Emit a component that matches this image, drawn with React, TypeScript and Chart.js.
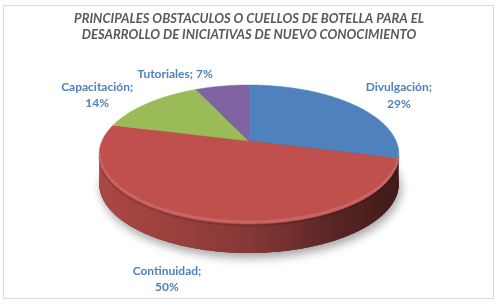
import React, { useEffect, useRef } from "react";
import { Chart, registerables } from "chart.js";

Chart.register(...registerables);

// ---- data ----
const CATEGORIES = ["Divulgación", "Continuidad", "Capacitación", "Tutoriales"];
const VALUES = [29, 50, 14, 7];
const TITLE_LINES = [
  "PRINCIPALES OBSTACULOS O CUELLOS DE BOTELLA PARA EL",
  "DESARROLLO DE INICIATIVAS DE NUEVO CONOCIMIENTO",
];

// ---- styles ----
const COLORS = ["#4F81BD", "#C0504D", "#9BBB59", "#8064A2"];
const LABEL_COLOR = "#4F81BD";
const TITLE_COLOR = "#595959";
const FONT = "Lato, 'Open Sans', sans-serif";
// label offsets (px) from the projected rim point at each slice's middle angle
const LABEL_OFFSETS: [number, number][] = [
  [46, -9],
  [-37, 58],
  [-51, -8],
  [-47, -12],
];
const LABEL_ONE_LINE = [false, false, false, true];
const PERSPECTIVE = 0.194; // depth foreshortening
const WIDTH_RATIO = 1.058; // horizontal radius / top-face height
const THICKNESS = 29;

function hexToRgb(h: string) {
  const n = parseInt(h.slice(1), 16);
  return [(n >> 16) & 255, (n >> 8) & 255, n & 255];
}
function shade(h: string, f: number) {
  const [r, g, b] = hexToRgb(h);
  return `rgb(${Math.round(r * f)},${Math.round(g * f)},${Math.round(b * f)})`;
}

const pie3d = {
  id: "pie3d",
  beforeDraw(chart: any) {
    const ctx = chart.ctx;
    ctx.save();
    ctx.fillStyle = "#ffffff";
    ctx.fillRect(0, 0, chart.width, chart.height);
    ctx.strokeStyle = "#D9D9D9";
    ctx.lineWidth = 1;
    ctx.strokeRect(3.5, 5.5, 490, 293);
    ctx.restore();
  },
  beforeDatasetsDraw(chart: any) {
    const ctx: CanvasRenderingContext2D = chart.ctx;
    const ca = chart.chartArea;
    const k = PERSPECTIVE;
    const H = ca.bottom - ca.top;
    const B = (H * (1 - k * k)) / 2;
    const A = H * WIDTH_RATIO;
    const cx = (ca.left + ca.right) / 2;
    const cy = ca.top + B / (1 + k);
    const proj = (a: number, dy = 0): [number, number] => {
      const u = Math.cos(a);
      const v = -Math.sin(a);
      const w = 1 + k * v;
      return [cx + (A * u) / w, cy - (B * v) / w + dy];
    };
    const rim = (a0: number, a1: number, dy = 0) => {
      const pts: [number, number][] = [];
      const n = Math.max(2, Math.ceil(Math.abs(a1 - a0) / 0.01));
      for (let i = 0; i <= n; i++) pts.push(proj(a0 + ((a1 - a0) * i) / n, dy));
      return pts;
    };
    const meta = chart.getDatasetMeta(0);
    const arcs = meta.data as any[];
    // front-facing rim range (Chart.js angle)
    const thS = Math.acos(-k); // from top, clockwise
    const fa0 = thS - Math.PI / 2;
    const fa1 = 2 * Math.PI - thS - Math.PI / 2;

    ctx.save();
    // shadow of the whole disc
    ctx.save();
    ctx.beginPath();
    rim(0, 2 * Math.PI, THICKNESS).forEach(([x, y], i) => (i ? ctx.lineTo(x, y) : ctx.moveTo(x, y)));
    ctx.closePath();
    ctx.shadowColor = "rgba(0,0,0,0.35)";
    ctx.shadowBlur = 10;
    ctx.shadowOffsetY = 5;
    ctx.shadowOffsetX = 2;
    ctx.fillStyle = "#5a2020";
    ctx.fill();
    ctx.restore();

    // side walls
    arcs.forEach((arc, i) => {
      const s = Math.max(arc.startAngle, fa0);
      const e = Math.min(arc.endAngle, fa1);
      if (e <= s) return;
      const top = rim(s, e);
      const bot = rim(e, s, THICKNESS);
      const g = ctx.createLinearGradient(cx - A * 1.03, 0, cx + A * 1.03, 0);
      const c = COLORS[i];
      g.addColorStop(0, shade(c, 0.9));
      g.addColorStop(0.25, shade(c, 0.8));
      g.addColorStop(0.5, shade(c, 0.7));
      g.addColorStop(0.8, shade(c, 0.45));
      g.addColorStop(1, shade(c, 0.33));
      ctx.beginPath();
      [...top, ...bot].forEach(([x, y], j) => (j ? ctx.lineTo(x, y) : ctx.moveTo(x, y)));
      ctx.closePath();
      ctx.fillStyle = g;
      ctx.fill();
    });

    // top faces
    arcs.forEach((arc, i) => {
      const pts = rim(arc.startAngle, arc.endAngle);
      ctx.beginPath();
      ctx.moveTo(cx, cy);
      pts.forEach(([x, y]) => ctx.lineTo(x, y));
      ctx.closePath();
      ctx.fillStyle = COLORS[i];
      ctx.fill();
      ctx.strokeStyle = COLORS[i];
      ctx.lineWidth = 0.5;
      ctx.stroke();
    });

    // bevel highlight along the front edge
    ctx.save();
    ctx.beginPath();
    rim(fa0, fa1, -2).forEach(([x, y], j) => (j ? ctx.lineTo(x, y) : ctx.moveTo(x, y)));
    ctx.strokeStyle = "rgba(255,255,255,0.12)";
    ctx.lineWidth = 3;
    ctx.stroke();
    ctx.beginPath();
    rim(fa0, fa1, 1.5).forEach(([x, y], j) => (j ? ctx.lineTo(x, y) : ctx.moveTo(x, y)));
    ctx.strokeStyle = "rgba(0,0,0,0.12)";
    ctx.lineWidth = 2;
    ctx.stroke();
    ctx.restore();

    // data labels
    const total = VALUES.reduce((a, b) => a + b, 0);
    ctx.fillStyle = LABEL_COLOR;
    ctx.font = `bold 12px ${FONT}`;
    ctx.textAlign = "center";
    ctx.textBaseline = "middle";
    arcs.forEach((arc, i) => {
      const mid = (arc.startAngle + arc.endAngle) / 2;
      const [px, py] = proj(mid);
      const x = px + LABEL_OFFSETS[i][0];
      const y = py + LABEL_OFFSETS[i][1];
      const pct = Math.round((VALUES[i] / total) * 100) + "%";
      if (LABEL_ONE_LINE[i]) {
        ctx.fillText(`${CATEGORIES[i]}; ${pct}`, x, y);
      } else {
        ctx.fillText(`${CATEGORIES[i]};`, x, y - 8);
        ctx.fillText(pct, x, y + 8.5);
      }
    });
    ctx.restore();
    return false;
  },
};

export default function App() {
  const ref = useRef<HTMLCanvasElement>(null);
  useEffect(() => {
    document.body.style.margin = "0";
    const chart = new Chart(ref.current!, {
      type: "pie",
      data: {
        labels: CATEGORIES,
        datasets: [{ data: VALUES, backgroundColor: COLORS, borderWidth: 0 }],
      },
      options: {
        animation: false,
        responsive: false,
        devicePixelRatio: 1,
        layout: { padding: { left: 0, right: 2, top: 0, bottom: 82 } },
        plugins: {
          legend: { display: false },
          tooltip: { enabled: false },
          title: {
            display: true,
            text: TITLE_LINES,
            color: TITLE_COLOR,
            font: { family: FONT, size: 13, weight: "bold", style: "italic", lineHeight: "16px" },
            padding: { top: 11, bottom: 42 },
          },
        },
      } as any,
      plugins: [pie3d],
    });
    return () => chart.destroy();
  }, []);
  return (
    <div style={{ width: 500, height: 306 }}>
      <canvas ref={ref} width={500} height={306} />
    </div>
  );
}
